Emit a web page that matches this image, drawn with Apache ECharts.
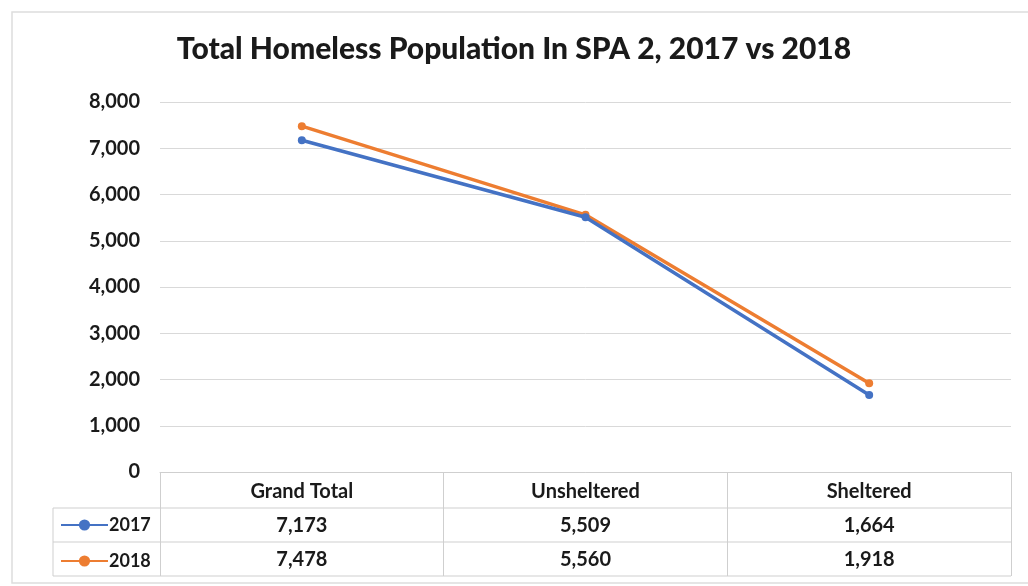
<!DOCTYPE html>
<html>
<head>
<meta charset="utf-8">
<script src="https://cdn.jsdelivr.net/npm/echarts@6/dist/echarts.min.js"></script>
<style>
  html, body { margin: 0; padding: 0; background: #ffffff; }
  #chart { width: 1028px; height: 586px; }
</style>
</head>
<body>
<div id="chart"></div>
<script>
const titleText = 'Total Homeless Population In SPA 2, 2017 vs 2018';
const categories = ['Grand Total', 'Unsheltered', 'Sheltered'];
const seriesNames = ['2017', '2018'];
const values2017 = [7173, 5509, 1664];
const values2018 = [7478, 5560, 1918];
const yTicks = { min: 0, max: 8000, interval: 1000 };

const FONT = 'Lato, "Open Sans", sans-serif';
const W = 1028, H = 586;
const GRID_LEFT = 160, GRID_RIGHT = 17, GRID_TOP = 102, GRID_BOTTOM = 114;
const ROW_H = 34;
const TABLE_TOP = H - GRID_BOTTOM;
const LEG_LEFT = 53;
const LINE_COLOR = '#cfcfcf';

const fmt = v => v.toLocaleString('en-US');

const chart = echarts.init(document.getElementById('chart'));

const hLines = [];
for (let r = 1; r <= 3; r++) {
  const y = TABLE_TOP + 2 + ROW_H * r;
  hLines.push({
    type: 'line',
    shape: { x1: LEG_LEFT, y1: y, x2: W - GRID_RIGHT, y2: y },
    style: { stroke: LINE_COLOR, lineWidth: 1 },
    silent: true
  });
}
hLines.push({
  type: 'line',
  shape: { x1: LEG_LEFT, y1: TABLE_TOP + 2 + ROW_H, x2: LEG_LEFT, y2: TABLE_TOP + 2 + ROW_H * 3 },
  style: { stroke: LINE_COLOR, lineWidth: 1 },
  silent: true
});
// outer frame
hLines.push({
  type: 'rect',
  shape: { x: 12, y: 12, width: W, height: H - 15 },
  style: { fill: 'none', stroke: '#dddddd', lineWidth: 1.5 },
  silent: true,
  z: -1
});

const option = {
  backgroundColor: '#ffffff',
  animation: false,
  title: {
    text: titleText,
    left: 'center',
    top: 29,
    textStyle: { fontFamily: FONT, fontSize: 30, fontWeight: 900, color: '#1a1a1a' }
  },
  legend: {
    orient: 'vertical',
    left: LEG_LEFT + 2,
    top: TABLE_TOP + 2 + ROW_H + 3,
    itemWidth: 47,
    itemHeight: 14,
    itemGap: 18,
    data: seriesNames,
    textStyle: { fontFamily: FONT, fontSize: 18, fontWeight: 'bold', color: '#1a1a1a', padding: [0, 0, 0, -4] }
  },
  grid: { left: GRID_LEFT, right: GRID_RIGHT, top: GRID_TOP, bottom: GRID_BOTTOM, containLabel: false },
  xAxis: {
    type: 'category',
    data: categories,
    boundaryGap: true,
    axisLine: { show: true, lineStyle: { color: LINE_COLOR, width: 1 } },
    axisTick: { show: true, alignWithLabel: false, length: ROW_H * 3 + 2, lineStyle: { color: LINE_COLOR } },
    axisLabel: {
      interval: 0,
      margin: 3,
      formatter: (value, idx) => `{h|${value}}\n{v|${fmt(values2017[idx])}}\n{v|${fmt(values2018[idx])}}`,
      rich: {
        h: { fontFamily: FONT, fontSize: 20, fontWeight: 'bold', color: '#1a1a1a', lineHeight: ROW_H },
        v: { fontFamily: FONT, fontSize: 20, fontWeight: 'bold', color: '#1a1a1a', lineHeight: ROW_H }
      }
    }
  },
  yAxis: {
    type: 'value',
    min: yTicks.min,
    max: yTicks.max,
    interval: yTicks.interval,
    axisLine: { show: false },
    axisTick: { show: false },
    axisLabel: {
      margin: 20,
      formatter: v => fmt(v),
      fontFamily: FONT, fontSize: 20, fontWeight: 'bold', color: '#1a1a1a'
    },
    splitLine: { lineStyle: { color: '#d9d9d9', width: 1 } }
  },
  series: [
    {
      name: seriesNames[0],
      type: 'line',
      data: values2017,
      symbol: 'circle',
      symbolSize: 8,
      lineStyle: { color: '#4472C4', width: 3.5 },
      itemStyle: { color: '#4472C4' },
      z: 3
    },
    {
      name: seriesNames[1],
      type: 'line',
      data: values2018,
      symbol: 'circle',
      symbolSize: 8,
      lineStyle: { color: '#ED7D31', width: 3.5 },
      itemStyle: { color: '#ED7D31' },
      z: 2
    }
  ],
  graphic: hLines
};

chart.setOption(option);
</script>
</body>
</html>
